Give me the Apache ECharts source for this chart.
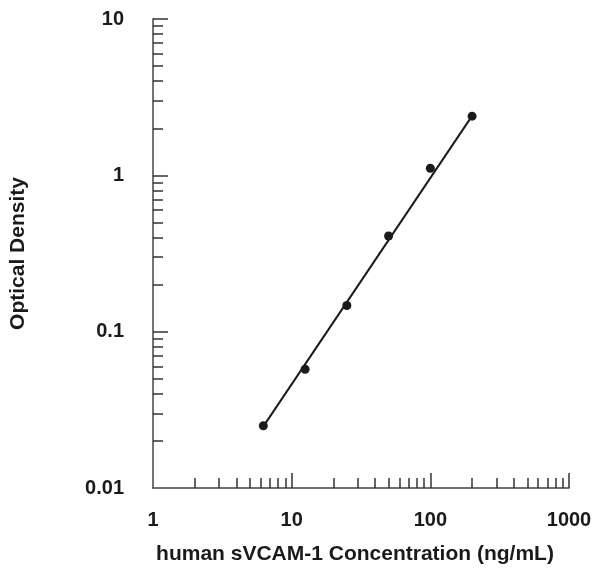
<!DOCTYPE html>
<html>
<head>
    <meta charset="UTF-8">
    <title>sVCAM-1 standard curve</title>
    <script src="https://cdn.jsdelivr.net/npm/echarts@6/dist/echarts.min.js"></script>
    <style>
        html, body { margin: 0; padding: 0; background: #fff; }
        #main { width: 595px; height: 570px; }
    </style>
</head>
<body>
<div id="main"></div>
<script>
    // standard points (ng/mL, OD)
    var conc = [6.25, 12.5, 25, 50, 100, 200];
    var od = [0.025, 0.0575, 0.147, 0.409, 1.11, 2.39];
    // fitted line, ends
    var fitX = [6.25, 200];
    var fitY = [0.0248, 2.40];

    var xLabels = [1, 10, 100, 1000];
    var xMajor = [10, 100, 1000];
    var xMinor = [2, 3, 4, 5, 6, 7, 8, 9, 20, 30, 40, 50, 60, 70, 80, 90, 200, 300, 400, 500, 600, 700, 800, 900];
    var yLabels = [0.01, 0.1, 1, 10];
    var yMajor = [0.1, 1, 10];
    var yMinor = [0.02, 0.03, 0.04, 0.05, 0.06, 0.07, 0.08, 0.09, 0.2, 0.3, 0.4, 0.5, 0.6, 0.7, 0.8, 0.9, 2, 3, 4, 5, 6, 7, 8, 9];

    var ink = '#1a1a1a';
    var font = 'Liberation Sans';

    function majorAxis(pos, min, max, labels, ticks, name, gap, nameSize, margin, namePad) {
        return {
            type: 'log', logBase: 10, min: min, max: max, position: pos,
            name: name, nameLocation: 'middle', nameGap: gap,
            nameTextStyle: {color: ink, fontFamily: font, fontWeight: 'bold', fontSize: nameSize, padding: namePad || 0},
            axisLine: {show: true, lineStyle: {color: '#444', width: 1.5}},
            axisTick: {show: true, inside: true, length: 15, customValues: ticks, lineStyle: {color: '#333', width: 1.5}},
            axisLabel: {
                show: true, margin: margin, customValues: labels,
                color: ink, fontFamily: font, fontWeight: 'bold', fontSize: 20,
                formatter: function (v) { return String(v); }
            },
            splitLine: {show: false},
            minorTick: {show: false}
        };
    }
    function minorAxis(pos, min, max, ticks) {
        return {
            type: 'log', logBase: 10, min: min, max: max, position: pos, offset: 0,
            axisLine: {show: false},
            axisTick: {show: true, inside: true, length: 10, customValues: ticks, lineStyle: {color: '#333', width: 1.5}},
            axisLabel: {show: false},
            splitLine: {show: false}
        };
    }

    var chart = echarts.init(document.getElementById('main'));
    chart.setOption({
        animation: false,
        grid: {left: 152, top: 19, right: 26, bottom: 78, containLabel: false},
        xAxis: [
            majorAxis('bottom', 1, 1000, xLabels, xMajor, 'human sVCAM-1 Concentration (ng/mL)', 56, 21, 22, [0, 12, 0, 0]),
            minorAxis('bottom', 1, 1000, xMinor)
        ],
        yAxis: [
            majorAxis('left', 0.01, 10, yLabels, yMajor, 'Optical Density', 124, 21, 29),
            minorAxis('left', 0.01, 10, yMinor)
        ],
        series: [
            {
                type: 'line',
                xAxisIndex: 0, yAxisIndex: 0,
                data: fitX.map(function (x, i) { return [x, fitY[i]]; }),
                showSymbol: false,
                lineStyle: {color: ink, width: 2},
                z: 2
            },
            {
                type: 'scatter',
                xAxisIndex: 0, yAxisIndex: 0,
                data: conc.map(function (x, i) { return [x, od[i]]; }),
                symbol: 'circle',
                symbolSize: 9,
                itemStyle: {color: ink, opacity: 1},
                z: 3
            }
        ]
    });
</script>
</body>
</html>
